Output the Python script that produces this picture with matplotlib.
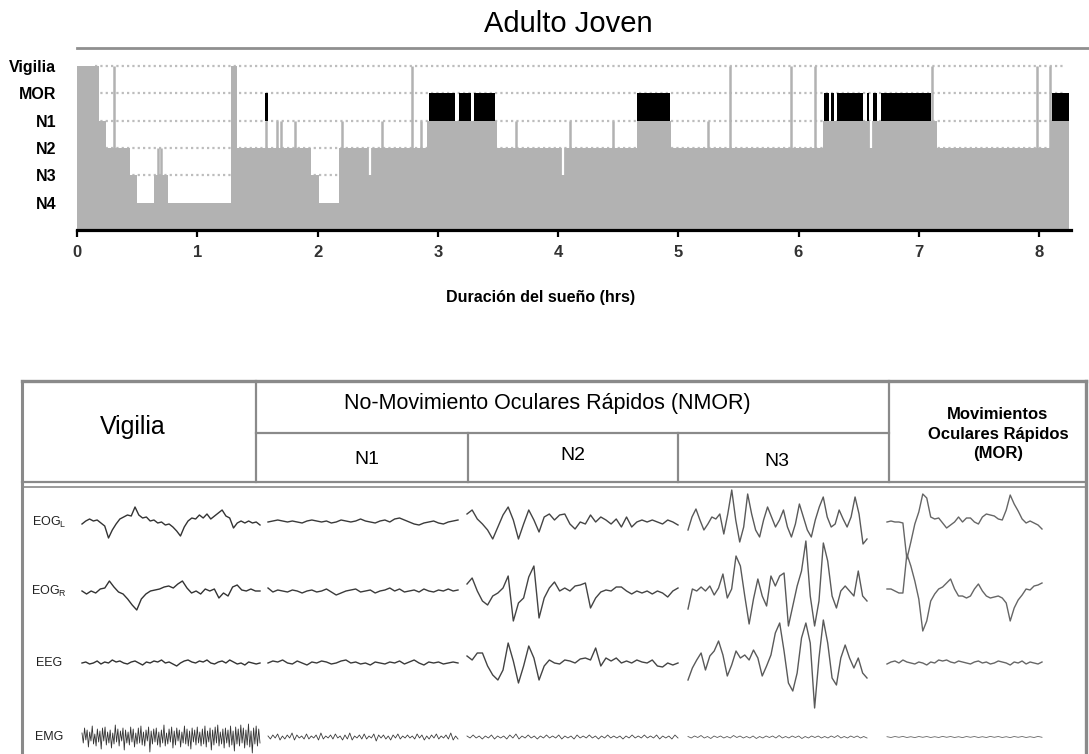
import numpy as np
import matplotlib
matplotlib.use('Agg')
import matplotlib.pyplot as plt
from matplotlib.lines import Line2D

plt.rcParams['font.family'] = ['Liberation Sans', 'DejaVu Sans']

# ---------------- hypnogram data (hours, stage level) ----------------
# levels: 6 Vigilia, 5 MOR, 4 N1, 3 N2, 2 N3, 1 N4
stage_names = ['Vigilia', 'MOR', 'N1', 'N2', 'N3', 'N4']
stage_pos = [6, 5, 4, 3, 2, 1]
stage_start = [0, 0.18, 0.24, 0.44, 0.50, 0.64, 0.76, 1.28, 1.33, 1.95, 2.01,
               2.18, 2.91, 3.49, 4.66, 4.94, 6.20, 7.15, 8.10]
stage_level = [6, 4, 3, 2, 1, 2, 1, 6, 3, 2, 1, 3, 4, 3, 4, 3, 4, 3, 4]
rec_end = 8.25

# short awakenings / lighter stage spikes
spike_t = [0.31, 0.67, 0.70, 1.575, 1.66, 1.70, 1.81, 2.20, 2.54, 2.79, 2.86,
           3.65, 4.10, 4.46, 5.25, 5.43, 5.94, 6.14, 7.11, 7.98, 8.09]
spike_top = [6, 3, 3, 4, 4, 4, 4, 4, 4, 6, 4, 4, 4, 4, 4, 6, 6, 6, 6, 6, 6]
# short deepenings
dip_t = [2.44, 4.04, 6.605]
dip_to = [2, 2, 3]
# MOR (REM) episodes
rem_start = [1.565, 2.927, 3.175, 3.303, 4.66, 6.212, 6.274, 6.32, 6.57, 6.621, 6.683, 8.11]
rem_end = [1.585, 3.145, 3.276, 3.473, 4.93, 6.252, 6.293, 6.535, 6.589, 6.656, 7.10, 8.25]

# ---------------- polysomnography traces (deflection, px) ----------------
eogl_vig = [-2, 1, 3, 1, 2, -1, -4, -16, -8, -2, 3, 5, 7, 6, 15, 7, 4, 5, 1, 2, -1, 0, -3, -2,
            -5, -9, -14, -5, 1, 4, 3, 7, 4, 8, 3, 6, 9, 12, 6, 4, -6, -1, 1, -1, 1, -1, 0, -3]
eogl_n1 = [0, 1, 2, 1, 0, 1, 0, -1, 1, 2, 1, 0, 1, -1, 0, 2, 1, 0, 1, 3, 1, 0, -1, 1, 2, 0,
           3, 4, 2, 0, -2, -3, -1, 0, 1, -1, -2, 0, 1, 2]
eogl_n2 = [8, 12, 3, -2, -8, -17, -5, 7, 15, 2, -17, -2, 12, 2, -10, 5, 8, 2, 7, 8, -2, -7,
           0, -2, 7, 0, 5, 2, -2, 3, -5, 5, -5, 0, 2, 0, 2, 0, -2, 2, 0, -3]
eogl_n3 = [-8, 5, 13, 2, -8, -2, 5, 3, 8, -12, 8, 32, 2, -20, -5, 28, 8, -8, -15, 2, 15, 5,
           -5, 2, 12, -5, -15, -2, 18, 5, -8, -15, 2, 15, 25, 5, -5, -2, 12, 3, -5, 5, 25, 8, -22, -17]
eogl_mor = [0, 1, 0, 0, -1, -37, -20, -2, 10, 28, 24, 5, 3, 4, -1, -6, -3, 0, 5, 0, 4, 4, 0, -2,
            5, 8, 7, 6, 3, 2, 12, 27, 18, 11, 3, -1, 1, -1, -3, -7]

eogr_vig = [0, -3, 0, -2, 2, 3, 10, 4, -1, -3, -8, -14, -19, -8, -3, 0, 1, 2, 4, 5, 3, 7, 10, 3,
            -2, 0, -3, 2, 0, 2, -7, -2, -5, 4, 6, 1, 0, 2, 0, 0]
eogr_n1 = [3, -1, 1, 0, -1, 1, 0, -2, 0, 1, -1, 0, 2, -1, -4, -2, 0, 1, 2, -1, 0, 1, -2, 0, 1, 3,
           0, 2, -1, 0, 1, -1, 2, 0, -1, 1, 0, 2, 0, 1]
eogr_n2 = [7, 13, 0, -10, -14, -5, -2, 3, 15, -30, -12, -7, 14, 25, -27, -7, 3, 9, 0, 3, 0, 5,
           6, 8, -17, -7, -1, 1, 0, 4, 4, 0, -3, 0, -2, 0, -3, 0, -2, -6, 0, 3]
eogr_n3 = [-18, 2, 0, 4, 0, 5, -4, 3, 17, -7, 2, 35, 25, -5, -33, -8, 12, -5, -15, 15, 5, 15,
           18, -35, -15, 5, 20, 50, -5, -35, -10, 48, 30, -5, -17, 0, 5, 0, -5, 20, -5, -10]
eogr_mor = [2, 2, 0, -2, -2, 37, 25, 10, -8, -40, -30, -10, -3, 2, 4, 8, 12, 2, -5, -5, -7, -5,
            2, 7, 0, -5, -7, -6, -5, -7, -12, -30, -17, -9, -4, 2, 1, 5, 6, 8]

eeg_vig = [0, 1, -1, 0, 2, -1, 1, 0, 3, 1, 2, 0, -1, 1, 2, 0, -2, 1, 0, 2, 1, 3, 0, 1, -1, -3,
           0, 2, 3, 1, 0, 2, 1, 3, 0, -1, 1, 2, 0, 3, 1, -1, 0, -2, 1, 0, -1, 0]
eeg_n1 = [0, 2, 1, 3, 0, -1, 2, 0, -2, 1, 0, 2, 1, -1, 0, 2, 3, 0, 1, -1, 0, -2, 1, 0, -1, 1,
          0, 2, -1, 1, 3, 0, -2, 1, 0, 1, -1, 0, 1, 0]
eeg_n2 = [7, 3, 10, 10, -3, -12, -17, -7, 20, 2, -20, -3, 17, 5, -17, -3, 3, 0, -1, 3, 2, 0,
          4, 5, 3, 15, -3, 5, 2, 5, 0, 2, 0, 3, 1, 0, 3, -3, -4, 0, -2, 0]
eeg_n3 = [-17, -5, 3, 10, -7, 7, 12, 22, 8, -13, -2, 12, 5, 8, 3, 13, 5, -13, -3, 8, 30, 40,
          12, -20, -28, -10, 25, 40, 20, -45, 5, 43, 20, -15, -22, 5, 18, 5, -5, 5, -10, -15]
eeg_mor = [-1, 1, 2, 0, 3, 1, 0, -1, 1, 0, -2, 1, 0, 3, 2, 3, 1, 0, 2, 1, 0, -1, 1, 2, 0, 1,
           -1, 0, 2, 1, 0, -2, 1, 0, 2, -1, 1, 0, -1, 1]

emg_vig = [4, -6, 9, -3, 7, -10, 5, -4, 11, -7, 3, -9, 8, -5, 6, -12, 9, -4, 10, -8, 5, -6, 7,
           -11, 4, -7, 12, -5, 8, -9, 6, -4, 9, -13, 7, -6, 5, -8, 10, -5, 8, -10, 4, -7, 9, -6,
           11, -8, 5, -9, 7, -4, 10, -15, 6, -7, 8, -5, 9, -8, 5, -10, 7, -6, 12, -9, 4, -7, 8,
           -5, 10, -11, 6, -8, 9, -4, 7, -10, 5, -6, 11, -7, 8, -9, 6, -12, 9, -5, 7, -8, 10,
           -6, 5, -9, 8, -7, 11, -10, 6, -5, 9, -13, 7, -8, 10, -6, 12, -9, 5, -7, 8, -11, 9,
           -6, 7, -10, 11, -8, 6, -14, 10, -7, 8, -9, 12, -6, 9, -11, 7, -8, 13, -10, 6, -16,
           9, -7, 11, -9, 8, -6]
emg_n1 = [1, -2, 2, -1, 3, -3, 1, -2, 2, -1, 4, -3, 2, -1, 1, -2, 3, -2, 1, -1, 2, -3, 4, -2, 1,
          -1, 2, -2, 3, -1, 1, -3, 2, -2, 4, -3, 1, -1, 2, -2, 3, -2, 1, -1, 3, -4, 2, -1, 2, -2,
          1, -3, 2, -1, 3, -2, 1, -1, 2, -1, 1, -2, 3, -1, 2, -3, 1, -2, 2, -1, 3, -2, 1, -1,
          2, -2, 4, -3, 1, -2]
emg_n2 = [1, -1, 2, -1, 1, -2, 1, -1, 2, -2, 1, -1, 1, -2, 2, -1, 3, -2, 1, -1, 2, -1, 1, -2, 1,
          -1, 2, -1, 1, -1, 2, -2, 1, -1, 1, -2, 2, -1, 1, -1, 2, -1, 1, -2, 1, -1, 2, -1, 1, -1,
          1, -2, 1, -1, 2, -1, 1, -1, 2, -1, 1, -1, 2, -2, 1, -1, 1, -2, 2, -1]
emg_n3 = [0.5, -1, 1, -0.5, 1.5, -1, 0.5, -1.5, 1, -0.5, 1, -1, 0.5, -1, 1.5, -0.5, 1, -1, 0.5,
          -1, 1, -1.5, 0.5, -1, 1, -0.5, 1, -1, 1.5, -1, 0.5, -1, 1, -0.5, 1, -1.5, 0.5, -1, 1,
          -0.5, 1, -1, 0.5, -1, 1, -0.5, 1.5, -1, 0.5, -1, 1, -0.5, 1, -1, 0.5, -1]
emg_mor = [0.3, -0.5, 0.5, -0.3, 0.6, -0.5, 0.3, -0.6, 0.5, -0.3, 0.5, -0.5, 0.3, -0.5, 0.6,
           -0.3, 0.5, -0.5, 0.3, -0.6, 0.5, -0.3, 0.5, -0.5, 0.3, -0.5, 0.6, -0.3, 0.5, -0.5,
           0.3, -0.6, 0.5, -0.3, 0.5, -0.5, 0.3, -0.5, 0.6, -0.3]

row_labels = [r'EOG$_\mathregular{L}$', r'EOG$_\mathregular{R}$', 'EEG', 'EMG']
traces = [
    [eogl_vig, eogl_n1, eogl_n2, eogl_n3, eogl_mor],
    [eogr_vig, eogr_n1, eogr_n2, eogr_n3, eogr_mor],
    [eeg_vig, eeg_n1, eeg_n2, eeg_n3, eeg_mor],
    [emg_vig, emg_n1, emg_n2, emg_n3, emg_mor],
]

# ---------------- figure ----------------
W, H = 1089, 754
fig = plt.figure(figsize=(W / 100, H / 100), dpi=100)


def fx(px):
    return px / W


def fy(py):
    return 1 - py / H


GRAY = '#b2b2b2'
px_per_hr = (1039 - 77) / 8
ax = fig.add_axes([fx(77), fy(230), (1071 - 77) / W, (230 - 60.5) / H])
ax.set_xlim(0, (1071 - 77) / px_per_hr)
ax.set_ylim(0, 6.2)

ax.hlines([6, 5, 4, 3, 2], 0.15, 8.22, colors='#bdbdbd', linestyles=(0, (1, 1.4)),
          lw=1.6, zorder=1)
xs = np.append(stage_start, rec_end)
ys = np.append(stage_level, stage_level[-1])
ax.fill_between(xs, 0, ys, step='post', color=GRAY, lw=0, zorder=2)
ax.vlines(spike_t, 0, spike_top, colors=GRAY, lw=1.8, zorder=2)
cur = np.array(stage_level)[np.searchsorted(stage_start, dip_t, side='right') - 1]
ax.vlines(dip_t, dip_to, np.minimum(cur, 4), colors='white', lw=1.6, zorder=2.5)
ax.broken_barh([(s, e - s) for s, e in zip(rem_start, rem_end)], (4, 1),
               facecolors='black', zorder=3)

for side in ['left', 'top', 'right']:
    ax.spines[side].set_visible(False)
ax.spines['bottom'].set_linewidth(2.3)
ax.spines['bottom'].set_zorder(4)
ax.set_xticks(range(9))
ax.tick_params(axis='x', direction='out', length=5, width=1.6, labelsize=12, pad=6,
               labelcolor='#333333')
for lbl in ax.get_xticklabels():
    lbl.set_fontweight('bold')
ax.set_yticks(stage_pos, stage_names)
ax.tick_params(axis='y', length=0, pad=15, labelsize=11.5)
for lbl in ax.get_yticklabels():
    lbl.set_fontweight('bold')

fig.text(fx(568), fy(24), 'Adulto Joven', ha='center', va='center', fontsize=21)
fig.add_artist(Line2D([fx(77), 1.0], [fy(48), fy(48)], color='#8f8f8f', lw=2))
fig.text(fx(541), fy(298), 'Duración del sueño (hrs)', ha='center', va='center',
         fontsize=11.5, fontweight='bold')

# ---------------- table with traces ----------------
tab = fig.add_axes([0, 0, 1, 1], zorder=5)
tab.set_xlim(0, W)
tab.set_ylim(H, 0)
tab.axis('off')
tab.patch.set_alpha(0)

LC = '#8a8a8a'
tab.plot([22, 1086], [381, 381], color=LC, lw=2.4)
tab.plot([22, 22], [381, 754], color=LC, lw=2.2)
tab.plot([1086, 1086], [381, 754], color=LC, lw=2.4)
tab.plot([256, 889], [433, 433], color=LC, lw=1.6)
tab.plot([22, 1086], [482, 482], color=LC, lw=1.6)
tab.plot([22, 1086], [486.5, 486.5], color=LC, lw=1.2)
tab.plot([256, 256], [381, 482], color=LC, lw=1.6)
tab.plot([889, 889], [381, 482], color=LC, lw=1.6)
tab.plot([468, 468], [433, 482], color=LC, lw=1.6)
tab.plot([678, 678], [433, 482], color=LC, lw=1.6)

tab.text(133, 427, 'Vigilia', ha='center', va='center', fontsize=18)
tab.text(547, 404, 'No-Movimiento Oculares Rápidos (NMOR)', ha='center', va='center',
         fontsize=15.5)
tab.text(367, 459, 'N1', ha='center', va='center', fontsize=14)
tab.text(573, 456, 'N2', ha='center', va='center', fontsize=14)
tab.text(777, 462, 'N3', ha='center', va='center', fontsize=14)
tab.text(998, 434, 'Movimientos\nOculares Rápidos\n(MOR)', ha='center', va='center',
         fontsize=12, fontweight='bold', linespacing=1.35)

row_y = [522, 591, 663, 737]
col_x = [(82, 260), (268, 458), (467, 678), (688, 867), (887, 1042)]
col_color = ['#333333', '#3a3a3a', '#444444', '#5a5a5a', '#666666']
for r, (lab, y0) in enumerate(zip(row_labels, row_y)):
    tab.text(49, y0, lab, ha='center', va='center', fontsize=9, color='#222222')
    for c, (x0, x1) in enumerate(col_x):
        v = np.array(traces[r][c], dtype=float)
        t = np.linspace(x0, x1, len(v))
        lw = 0.6 if r == 3 else 1.0
        tab.plot(t, y0 - v, color=col_color[c], lw=lw)

fig.savefig('out.png', dpi=100)
